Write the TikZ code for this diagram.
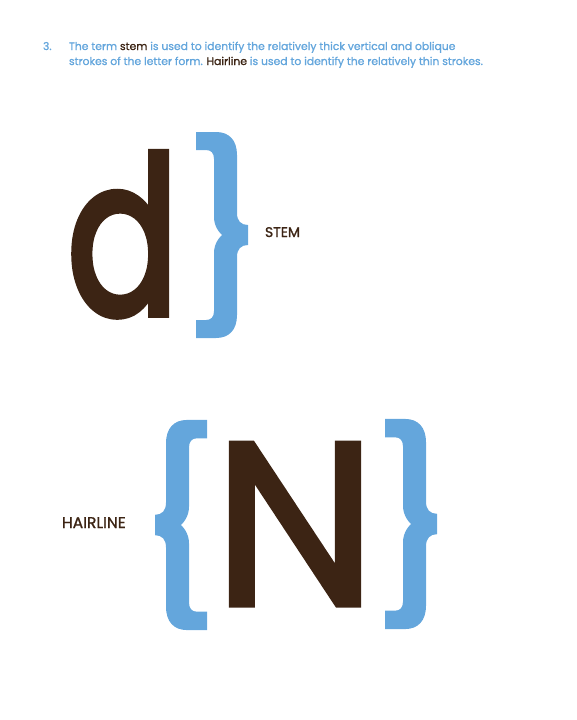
\documentclass[tikz,border=0pt]{standalone}
\usepackage{fontspec}
\setmainfont{Poppins}
\newfontfamily\strongfont{Poppins}[FakeBold=1.2]
\newfontfamily\glyphfont{Poppins}[FakeBold=3.5]
\newfontfamily\capfont{Poppins}[FakeBold=2.2]
\usetikzlibrary{positioning}
\definecolor{sky}{HTML}{64A6DC}
\definecolor{ink}{HTML}{3C2414}

\begin{document}
\begin{tikzpicture}[x=1pt,y=-1pt, every node/.style={inner sep=0pt,outer sep=0pt},
  note/.style={font=\strongfont\fontsize{10.8}{15}\selectfont,text=sky,anchor=base west},
  tag/.style={font=\strongfont\fontsize{#1}{#1}\selectfont,text=ink,anchor=base west},
  glyph/.style={font=\fontsize{#1}{#1}\selectfont,text=ink,anchor=base},
  brace/.pic={
    \fill[sky] (0,-103) -- (20,-103) .. controls (33,-103) and (41,-95) .. (41,-80)
      -- (41,-22) .. controls (41,-14) and (45,-10) .. (52,-10)
      -- (52,10) .. controls (45,10) and (41,14) .. (41,22)
      -- (41,80) .. controls (41,95) and (33,103) .. (20,103)
      -- (0,103) -- (0,85) -- (10,85) .. controls (15,85) and (18,82) .. (18,76)
      -- (18,18) .. controls (18,8) and (24,2) .. (26,0)
      .. controls (24,-2) and (18,-8) .. (18,-18)
      -- (18,-76) .. controls (18,-82) and (15,-85) .. (10,-85)
      -- (0,-85) -- cycle;
  }]
  \useasboundingbox (0,0) rectangle (576,720);
  % heading
  \node[note] (num) at (43,50) {3.};
  \node[note] (intro) at (69,50) {The term \textcolor{ink}{stem} is used to identify the relatively thick vertical and oblique};
  \node[note] (introb) at (69,65) {strokes of the letter form. \textcolor{ink}{Hairline} is used to identify the relatively thin strokes.};
  % stem
  \node[glyph=218,xscale=0.76] (dee) at (123,314) {\glyphfont d};
  \pic (stembrace) at (196,235) {brace};
  \node[tag=14] (stem) at (265,237) {STEM};
  % hairline
  \pic[xscale=-1,yscale=1.02] (leftbrace) at (207,525) {brace};
  \node[glyph=232] (en) at (295,605) {\capfont N};
  \pic[yscale=1.02] (rightbrace) at (385,524) {brace};
  \node[tag=15.5] (hair) at (62,528) {HAIRLINE};
\end{tikzpicture}
\end{document}
